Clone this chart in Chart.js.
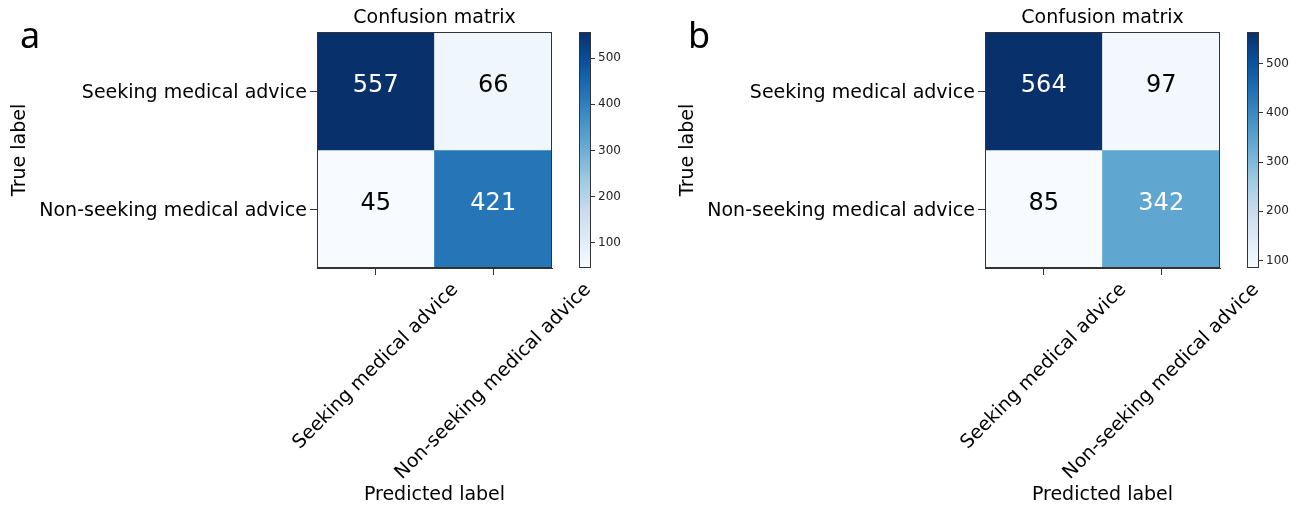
<!DOCTYPE html>
<html><head><meta charset="utf-8">
<script src="https://cdn.jsdelivr.net/npm/chart.js@4/dist/chart.umd.min.js"></script>
<style>
html,body{margin:0;padding:0;background:#fff;width:1301px;height:507px;overflow:hidden;position:relative}
canvas{position:absolute;top:0}
</style></head><body>
<canvas id="matA" width="610" height="507" style="left:0px"></canvas>
<canvas id="cbA" width="63" height="507" style="left:570px"></canvas>
<canvas id="matB" width="610" height="507" style="left:668px"></canvas>
<canvas id="cbB" width="63" height="507" style="left:1238px"></canvas>
<script>
// ---- data ----
const categories = ['Seeking medical advice', 'Non-seeking medical advice'];
const panelA_seeking = [557, 66];
const panelA_nonSeeking = [45, 421];
const panelB_seeking = [564, 97];
const panelB_nonSeeking = [85, 342];
const colorbarTicks = [100, 200, 300, 400, 500];
const panelLetters = ['a', 'b'];
const chartTitle = 'Confusion matrix';
const xTitle = 'Predicted label';
const yTitle = 'True label';

// ---- styling ----
const FONT = "'DejaVu Sans', sans-serif";
const BLUES = ['#f7fbff','#deebf7','#c6dbef','#9ecae1','#6baed6','#4292c6','#2171b5','#08519c','#08306b'];
function hexToRgb(h){return [1,3,5].map(i=>parseInt(h.slice(i,i+2),16));}
function blues(t){
  t = Math.max(0, Math.min(1, t));
  const n = BLUES.length - 1, p = t * n, i = Math.min(n - 1, Math.floor(p)), f = p - i;
  const a = hexToRgb(BLUES[i]), b = hexToRgb(BLUES[i + 1]);
  return 'rgb(' + a.map((v, k) => Math.round(v + (b[k] - v) * f)).join(',') + ')';
}

const framePlugin = {
  id: 'frame',
  afterDraw(chart) {
    const {ctx, chartArea: a} = chart;
    ctx.save();
    ctx.strokeStyle = '#333';
    ctx.lineWidth = 1;
    ctx.strokeRect(Math.round(a.left) + 0.5, Math.round(a.top) + 0.5,
                   Math.round(a.right - a.left) - 1, Math.round(a.bottom - a.top) - 1);
    ctx.restore();
  }
};

const cellLabelPlugin = {
  id: 'cellLabels',
  afterDatasetsDraw(chart, args, opts) {
    const {ctx} = chart;
    ctx.save();
    ctx.font = '24px ' + FONT;
    ctx.textAlign = 'center';
    ctx.textBaseline = 'alphabetic';
    chart.data.datasets.forEach((ds, di) => {
      const meta = chart.getDatasetMeta(di);
      meta.data.forEach((el, j) => {
        const v = ds.values[j];
        const c = el.getCenterPoint();
        ctx.fillStyle = v > opts.thresh ? '#ffffff' : '#000000';
        ctx.fillText(String(v), c.x, c.y + 1);
      });
    });
    ctx.restore();
  }
};

const rotatedXLabelPlugin = {
  id: 'rotX',
  afterDraw(chart) {
    const {ctx} = chart;
    const sx = chart.scales.x;
    const fs = 19;
    ctx.save();
    ctx.font = fs + 'px ' + FONT;
    ctx.fillStyle = '#000';
    ctx.textAlign = 'center';
    ctx.textBaseline = 'middle';
    sx.getLabels().forEach((lab, i) => {
      const px = sx.getPixelForTick(i);
      const w = ctx.measureText(lab).width;
      const side = (w + 0.72 * fs) * Math.SQRT1_2;
      const top = chart.chartArea.bottom + 14;
      ctx.save();
      ctx.translate(px, top + side / 2);
      ctx.rotate(-Math.PI / 4);
      ctx.fillText(lab, 0, 0);
      ctx.restore();
    });
    ctx.restore();
  }
};

const letterPlugin = {
  id: 'letter',
  afterDraw(chart, args, opts) {
    const {ctx} = chart;
    ctx.save();
    ctx.font = "36px 'Noto Sans', sans-serif";
    ctx.fillStyle = '#000';
    ctx.textBaseline = 'alphabetic';
    ctx.textAlign = 'left';
    ctx.fillText(opts.text, 20, 48);
    ctx.restore();
  }
};

function makePanel(matId, cbId, rows, letter) {
  const all = rows.flat();
  const vmin = Math.min(...all), vmax = Math.max(...all);
  const canvasW = 610, plotLeft = 317, plotRight = 552, plotBottom = 268, H = 507;

  const datasets = rows.map((row, r) => ({
    label: categories[r],
    values: row,
    data: row.map(() => [r, r + 1]),
    backgroundColor: row.map(v => blues((v - vmin) / (vmax - vmin))),
    borderWidth: 0,
    grouped: false,
    barPercentage: 1,
    categoryPercentage: 1
  }));

  new Chart(document.getElementById(matId), {
    type: 'bar',
    data: {labels: categories, datasets},
    plugins: [framePlugin, cellLabelPlugin, rotatedXLabelPlugin, letterPlugin],
    options: {
      responsive: false, animation: false, events: [],
      layout: {padding: {left: 0, top: 0, bottom: 0, right: canvasW - plotRight}},
      plugins: {
        legend: {display: false},
        tooltip: {enabled: false},
        title: {display: true, text: chartTitle, fullSize: false, color: '#000',
                font: {family: FONT, size: 19, weight: 'normal'}, padding: {top: 6.6, bottom: 2.6}},
        cellLabels: {thresh: vmax / 2},
        letter: {text: letter}
      },
      scales: {
        x: {
          type: 'category',
          offset: true,
          afterFit: s => { s.height = H - plotBottom; },
          ticks: {display: false},
          grid: {offset: false, drawOnChartArea: false, drawTicks: true, tickLength: 7, color: '#333', lineWidth: 1},
          border: {display: true, color: '#333', width: 1},
          title: {display: true, text: xTitle, color: '#000', font: {family: FONT, size: 19}, padding: {top: 0, bottom: 0.6}}
        },
        y: {
          type: 'linear', min: 0, max: 2, reverse: true,
          afterFit: s => { s.width = plotLeft; },
          afterBuildTicks: s => { s.ticks = categories.map((c, i) => ({value: i + 0.5})); },
          ticks: {callback: v => categories[Math.floor(v)], color: '#000', font: {family: FONT, size: 19}, padding: 3, labelOffset: 2, autoSkip: false},
          grid: {drawOnChartArea: false, drawTicks: true, tickLength: 7, color: '#333', lineWidth: 1},
          border: {display: true, color: '#333', width: 1},
          title: {display: true, text: yTitle, color: '#000', font: {family: FONT, size: 19}, padding: {top: 8.6, bottom: 0}}
        }
      }
    }
  });

  const cbW = 63, cbLeftPad = 9, cbBarW = 12;
  new Chart(document.getElementById(cbId), {
    type: 'bar',
    data: {labels: [''], datasets: [{
      data: [[vmin, vmax]],
      backgroundColor: (ctx) => {
        const ca = ctx.chart.chartArea;
        if (!ca) return BLUES[4];
        const g = ctx.chart.ctx.createLinearGradient(0, ca.bottom, 0, ca.top);
        BLUES.forEach((c, i) => g.addColorStop(i / (BLUES.length - 1), c));
        return g;
      },
      borderWidth: 0, barPercentage: 1, categoryPercentage: 1
    }]},
    plugins: [framePlugin],
    options: {
      responsive: false, animation: false, events: [],
      layout: {padding: {left: cbLeftPad, top: 32, bottom: H - plotBottom, right: 0}},
      plugins: {legend: {display: false}, tooltip: {enabled: false}, title: {display: false}},
      scales: {
        x: {display: false},
        y: {
          position: 'right', min: vmin, max: vmax,
          afterFit: s => { s.width = cbW - cbLeftPad - cbBarW; },
          afterBuildTicks: s => { s.ticks = colorbarTicks.filter(v => v >= vmin && v <= vmax).map(v => ({value: v})); },
          ticks: {color: '#222', font: {family: FONT, size: 12}, padding: 3, autoSkip: false},
          grid: {drawOnChartArea: false, drawTicks: true, tickLength: 4, color: '#333', lineWidth: 1},
          border: {display: false}
        }
      }
    }
  });
}

makePanel('matA', 'cbA', [panelA_seeking, panelA_nonSeeking], panelLetters[0]);
makePanel('matB', 'cbB', [panelB_seeking, panelB_nonSeeking], panelLetters[1]);
</script>
</body></html>
